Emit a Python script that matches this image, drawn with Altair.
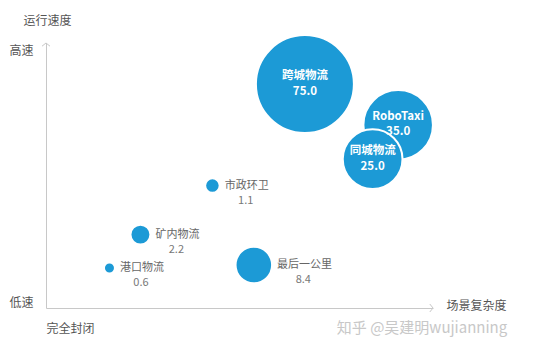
import altair as alt
import pandas as pd

names = ["跨城物流", "RoboTaxi", "同城物流", "市政环卫", "矿内物流", "港口物流", "最后一公里"]
values = [75.0, 35.0, 25.0, 1.1, 2.2, 0.6, 8.4]
complexity = [66.9, 91.0, 84.4, 43.0, 24.4, 16.4, 53.7]
speed = [84.5, 69.1, 56.2, 46.2, 27.7, 15.1, 16.2]

df = pd.DataFrame({"name": names, "value": values, "cx": complexity, "sp": speed})
df["vlabel"] = [f"{v:.1f}" for v in values]

FONT = "Noto Sans CJK SC"
BLUE = "#1c9ad6"
AX = "#c8c8c8"
W, H = 387, 265
SMIN, SMAX = 121.0, 9604.0
EXP = 0.9

xs = alt.Scale(domain=[0, 100], nice=False, zero=False)
ys = alt.Scale(domain=[0, 100], nice=False, zero=False)

def X(field="cx"):
    return alt.X(field, type="quantitative", scale=xs,
                 axis=alt.Axis(domainColor=AX, domainWidth=1, ticks=False, grid=False,
                               values=[0], labelExpr="'完全封闭'", labelAlign="left",
                               labelFont=FONT, labelFontSize=12, labelColor="#555",
                               labelPadding=15,
                               title="场景复杂度", titleFont=FONT, titleFontSize=12,
                               titleFontWeight="normal", titleColor="#555",
                               titleX=430, titleY=-3, titleAlign="center",
                               titleBaseline="middle"))

def Y(field="sp"):
    return alt.Y(field, type="quantitative", scale=ys,
                 axis=alt.Axis(domainColor=AX, domainWidth=1, ticks=False, grid=False,
                               values=[2, 97], labelExpr="datum.value > 50 ? '高速' : '低速'",
                               labelAlign="right", labelBaseline="middle",
                               labelFont=FONT, labelFontSize=12, labelColor="#555",
                               labelPadding=13,
                               title="运行速度", titleFont=FONT, titleFontSize=12,
                               titleFontWeight="normal", titleColor="#555",
                               titleAngle=0, titleX=1, titleY=-23, titleAlign="center",
                               titleBaseline="middle"))

base = alt.Chart(df)

circles = base.mark_circle(opacity=1, stroke="white", strokeWidth=2).encode(
    x=X(), y=Y(),
    size=alt.Size("value:Q",
                  scale=alt.Scale(type="pow", exponent=EXP, domain=[0.6, 75],
                                  range=[SMIN, SMAX], zero=False),
                  legend=None),
    color=alt.value(BLUE),
)

big = base.transform_filter("datum.value >= 20")
in_name = big.mark_text(font=FONT, fontSize=11.5, fontWeight="bold", color="white",
                        baseline="middle", dy=-8).encode(x=X(), y=Y(), text="name:N")
in_val = big.mark_text(font=FONT, fontSize=11.5, fontWeight="bold", color="white",
                       baseline="middle", dy=7.5).encode(x=X(), y=Y(), text="vlabel:N")

small = base.transform_filter("datum.value < 20").transform_calculate(
    r=(f"sqrt({SMIN} + (pow(datum.value, {EXP}) - pow(0.6, {EXP})) / "
       f"(pow(75, {EXP}) - pow(0.6, {EXP})) * ({SMAX} - {SMIN})) / 2")
).transform_calculate(
    lx=f"datum.cx + (datum.r + 5) / ({W} / 100)"
).transform_calculate(
    vx=f"datum.lx + (length(datum.name) * 10.5 / 2) / ({W} / 100)"
)
out_name = small.mark_text(font=FONT, fontSize=11, color="#666", align="left",
                           baseline="middle").encode(x=X("lx"), y=Y(), text="name:N")
out_val = small.mark_text(font=FONT, fontSize=11, color="#777", align="center",
                          baseline="middle", dy=15).encode(x=X("vx"), y=Y(), text="vlabel:N")

arrow_r = alt.Chart(pd.DataFrame({"a": [0]})).mark_point(
    shape="M-0.8,-1L0,0L-0.8,1", filled=False, stroke=AX, strokeWidth=1, opacity=1
).encode(x=alt.datum(100, scale=xs), y=alt.datum(0, scale=ys), size=alt.value(64))
arrow_u = alt.Chart(pd.DataFrame({"a": [0]})).mark_point(
    shape="M-1,0.8L0,0L1,0.8", filled=False, stroke=AX, strokeWidth=1, opacity=1
).encode(x=alt.datum(0, scale=xs), y=alt.datum(100, scale=ys), size=alt.value(64))

watermark = alt.Chart(pd.DataFrame({"t": ["知乎 @吴建明wujianning"]})).mark_text(
    font=FONT, fontSize=15, color="#c8c8c8", align="center", baseline="middle"
).encode(x=alt.value(376), y=alt.value(285), text="t:N")

chart = alt.layer(circles, in_name, in_val, out_name, out_val, arrow_r, arrow_u, watermark).properties(
    width=W, height=H,
    autosize=alt.AutoSizeParams(type="none"),
    padding={"left": 46, "top": 43, "right": 125, "bottom": 44},
    background="white",
).configure_view(stroke=None)

chart.save("out.html", embed_options={"renderer": "svg", "actions": False})
